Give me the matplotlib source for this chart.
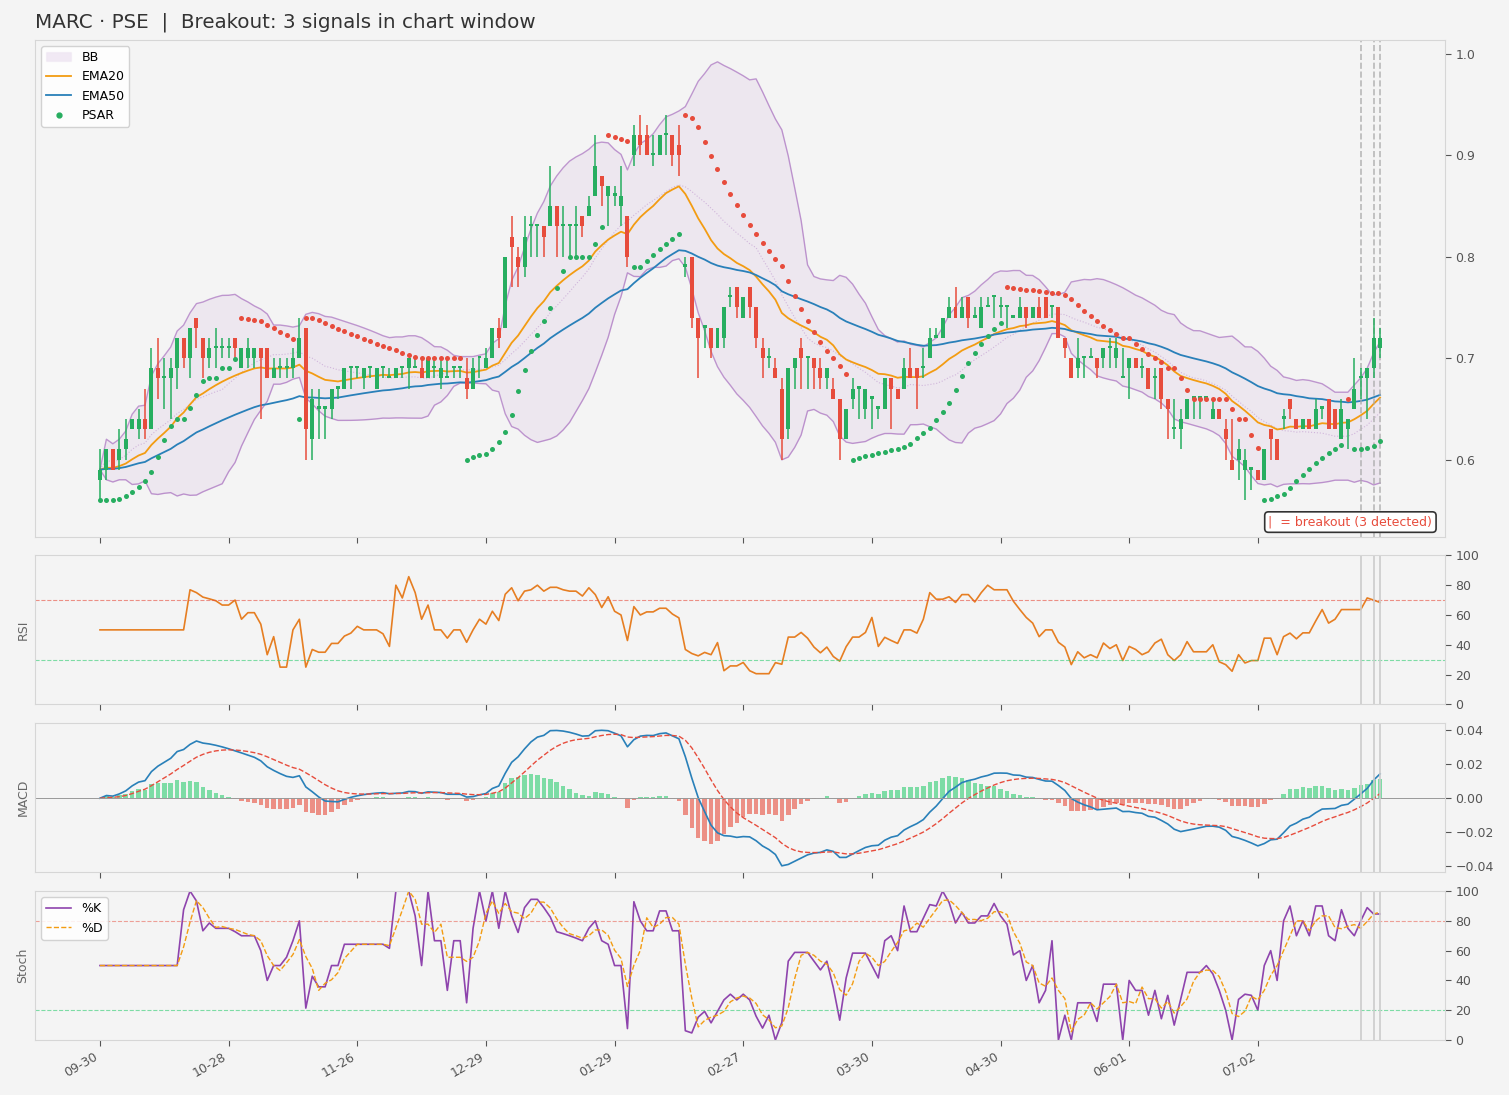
import numpy as np
import pandas as pd
import matplotlib
matplotlib.use("Agg")
import matplotlib.pyplot as plt
from matplotlib.patches import Patch
from matplotlib.lines import Line2D

# daily OHLC (PSE tick = 0.01)
opens = [0.58, 0.59, 0.61, 0.60, 0.61, 0.63, 0.63, 0.64, 0.63, 0.69,
         0.68, 0.68, 0.69, 0.72, 0.70, 0.74, 0.72, 0.70, 0.71, 0.71,
         0.71, 0.72, 0.69, 0.70, 0.70, 0.71, 0.71, 0.68, 0.69, 0.69,
         0.69, 0.70, 0.73, 0.62, 0.65, 0.65, 0.65, 0.67, 0.67, 0.69,
         0.69, 0.68, 0.69, 0.67, 0.69, 0.68, 0.68, 0.69, 0.69, 0.69,
         0.69, 0.68, 0.69, 0.68, 0.68, 0.69, 0.69, 0.68, 0.67, 0.70,
         0.69, 0.70, 0.73, 0.73, 0.82, 0.80, 0.79, 0.83, 0.83, 0.83,
         0.83, 0.85, 0.83, 0.83, 0.83, 0.84, 0.84, 0.86, 0.88, 0.86,
         0.86, 0.85, 0.84, 0.90, 0.92, 0.92, 0.90, 0.90, 0.92, 0.92,
         0.91, 0.79, 0.80, 0.74, 0.73, 0.73, 0.71, 0.72, 0.76, 0.77,
         0.74, 0.77, 0.75, 0.71, 0.70, 0.69, 0.67, 0.63, 0.69, 0.71,
         0.70, 0.70, 0.69, 0.68, 0.67, 0.66, 0.62, 0.66, 0.67, 0.65,
         0.66, 0.65, 0.65, 0.68, 0.67, 0.67, 0.69, 0.69, 0.69, 0.70,
         0.72, 0.72, 0.74, 0.75, 0.74, 0.76, 0.74, 0.73, 0.75, 0.76,
         0.75, 0.75, 0.74, 0.74, 0.75, 0.74, 0.75, 0.76, 0.75, 0.75,
         0.72, 0.70, 0.69, 0.70, 0.70, 0.70, 0.70, 0.71, 0.70, 0.68,
         0.69, 0.70, 0.69, 0.69, 0.68, 0.69, 0.66, 0.63, 0.63, 0.64,
         0.66, 0.66, 0.66, 0.64, 0.65, 0.63, 0.60, 0.60, 0.59, 0.59,
         0.59, 0.58, 0.63, 0.62, 0.64, 0.66, 0.64, 0.63, 0.64, 0.63,
         0.65, 0.66, 0.65, 0.62, 0.63, 0.65, 0.68, 0.68, 0.69, 0.71]
highs = [0.61, 0.61, 0.61, 0.63, 0.64, 0.64, 0.65, 0.67, 0.71, 0.72,
         0.70, 0.70, 0.72, 0.72, 0.73, 0.74, 0.72, 0.72, 0.73, 0.72,
         0.72, 0.72, 0.71, 0.72, 0.71, 0.71, 0.71, 0.70, 0.70, 0.70,
         0.71, 0.74, 0.73, 0.67, 0.67, 0.65, 0.67, 0.67, 0.69, 0.69,
         0.69, 0.69, 0.69, 0.69, 0.69, 0.69, 0.69, 0.69, 0.70, 0.70,
         0.70, 0.70, 0.70, 0.70, 0.70, 0.69, 0.69, 0.70, 0.70, 0.70,
         0.71, 0.73, 0.74, 0.80, 0.84, 0.81, 0.84, 0.84, 0.83, 0.83,
         0.89, 0.85, 0.85, 0.83, 0.85, 0.84, 0.86, 0.92, 0.88, 0.87,
         0.87, 0.89, 0.84, 0.93, 0.94, 0.93, 0.92, 0.92, 0.94, 0.92,
         0.93, 0.80, 0.80, 0.74, 0.73, 0.73, 0.73, 0.75, 0.77, 0.77,
         0.76, 0.77, 0.75, 0.72, 0.71, 0.70, 0.68, 0.69, 0.70, 0.72,
         0.70, 0.70, 0.70, 0.69, 0.68, 0.66, 0.65, 0.68, 0.67, 0.67,
         0.66, 0.65, 0.68, 0.68, 0.67, 0.70, 0.71, 0.69, 0.71, 0.73,
         0.73, 0.74, 0.76, 0.77, 0.76, 0.76, 0.75, 0.76, 0.76, 0.76,
         0.76, 0.75, 0.74, 0.76, 0.75, 0.75, 0.76, 0.76, 0.75, 0.75,
         0.72, 0.70, 0.72, 0.70, 0.71, 0.70, 0.71, 0.72, 0.72, 0.71,
         0.70, 0.70, 0.70, 0.69, 0.69, 0.69, 0.66, 0.66, 0.65, 0.66,
         0.66, 0.66, 0.66, 0.66, 0.65, 0.64, 0.64, 0.62, 0.61, 0.59,
         0.59, 0.61, 0.63, 0.62, 0.65, 0.66, 0.64, 0.64, 0.64, 0.66,
         0.65, 0.66, 0.65, 0.66, 0.64, 0.70, 0.69, 0.69, 0.74, 0.73]
lows = [0.56, 0.58, 0.59, 0.59, 0.60, 0.63, 0.62, 0.62, 0.63, 0.66,
        0.65, 0.64, 0.67, 0.69, 0.68, 0.71, 0.68, 0.69, 0.69, 0.70,
        0.70, 0.70, 0.69, 0.69, 0.69, 0.64, 0.68, 0.68, 0.68, 0.68,
        0.68, 0.70, 0.60, 0.60, 0.62, 0.62, 0.64, 0.66, 0.67, 0.67,
        0.68, 0.67, 0.68, 0.67, 0.68, 0.68, 0.68, 0.68, 0.67, 0.69,
        0.68, 0.68, 0.68, 0.67, 0.68, 0.68, 0.68, 0.66, 0.67, 0.68,
        0.69, 0.70, 0.71, 0.73, 0.77, 0.77, 0.78, 0.80, 0.80, 0.80,
        0.83, 0.80, 0.80, 0.80, 0.80, 0.82, 0.84, 0.86, 0.85, 0.83,
        0.85, 0.83, 0.79, 0.89, 0.90, 0.90, 0.89, 0.90, 0.90, 0.89,
        0.88, 0.78, 0.73, 0.68, 0.71, 0.70, 0.71, 0.71, 0.75, 0.74,
        0.74, 0.74, 0.71, 0.68, 0.69, 0.68, 0.60, 0.62, 0.67, 0.67,
        0.67, 0.67, 0.67, 0.67, 0.66, 0.60, 0.62, 0.65, 0.64, 0.64,
        0.63, 0.64, 0.65, 0.63, 0.66, 0.67, 0.68, 0.65, 0.68, 0.70,
        0.72, 0.72, 0.74, 0.74, 0.74, 0.73, 0.74, 0.73, 0.75, 0.74,
        0.74, 0.73, 0.74, 0.74, 0.73, 0.74, 0.74, 0.74, 0.74, 0.72,
        0.70, 0.68, 0.68, 0.68, 0.70, 0.68, 0.69, 0.69, 0.69, 0.68,
        0.66, 0.69, 0.68, 0.67, 0.66, 0.65, 0.62, 0.62, 0.61, 0.64,
        0.64, 0.64, 0.66, 0.64, 0.64, 0.60, 0.59, 0.58, 0.56, 0.57,
        0.58, 0.58, 0.60, 0.60, 0.63, 0.64, 0.63, 0.63, 0.63, 0.63,
        0.64, 0.63, 0.63, 0.62, 0.61, 0.65, 0.66, 0.64, 0.68, 0.70]
closes = [0.59, 0.61, 0.59, 0.61, 0.62, 0.64, 0.64, 0.63, 0.69, 0.68,
          0.68, 0.69, 0.72, 0.70, 0.73, 0.73, 0.70, 0.71, 0.71, 0.71,
          0.71, 0.71, 0.71, 0.71, 0.71, 0.70, 0.68, 0.69, 0.69, 0.69,
          0.70, 0.72, 0.63, 0.66, 0.65, 0.65, 0.67, 0.67, 0.69, 0.69,
          0.69, 0.69, 0.69, 0.69, 0.69, 0.68, 0.69, 0.69, 0.70, 0.69,
          0.68, 0.70, 0.69, 0.69, 0.68, 0.69, 0.69, 0.67, 0.69, 0.70,
          0.70, 0.73, 0.72, 0.80, 0.81, 0.79, 0.82, 0.83, 0.83, 0.82,
          0.85, 0.83, 0.83, 0.83, 0.83, 0.83, 0.85, 0.89, 0.87, 0.87,
          0.86, 0.86, 0.80, 0.92, 0.91, 0.90, 0.90, 0.92, 0.92, 0.90,
          0.90, 0.79, 0.74, 0.72, 0.73, 0.71, 0.73, 0.75, 0.76, 0.75,
          0.76, 0.75, 0.72, 0.70, 0.70, 0.68, 0.62, 0.69, 0.70, 0.70,
          0.70, 0.69, 0.68, 0.69, 0.66, 0.62, 0.65, 0.67, 0.67, 0.67,
          0.66, 0.65, 0.68, 0.67, 0.66, 0.69, 0.68, 0.68, 0.69, 0.72,
          0.72, 0.74, 0.75, 0.74, 0.75, 0.74, 0.74, 0.75, 0.75, 0.76,
          0.75, 0.75, 0.74, 0.75, 0.74, 0.75, 0.74, 0.74, 0.75, 0.72,
          0.71, 0.68, 0.70, 0.70, 0.70, 0.69, 0.71, 0.71, 0.71, 0.68,
          0.70, 0.69, 0.69, 0.67, 0.68, 0.66, 0.65, 0.63, 0.64, 0.66,
          0.66, 0.66, 0.66, 0.65, 0.64, 0.62, 0.59, 0.61, 0.60, 0.59,
          0.58, 0.61, 0.62, 0.60, 0.64, 0.65, 0.63, 0.64, 0.63, 0.65,
          0.65, 0.63, 0.63, 0.65, 0.64, 0.67, 0.68, 0.69, 0.72, 0.72]

tick_bars = [0, 20, 40, 60, 80, 100, 120, 140, 160, 180]
tick_labels = ["09-30", "10-28", "11-26", "12-29", "01-29",
               "02-27", "03-30", "04-30", "06-01", "07-02"]
breakout_bars = [196, 198, 199]

GREEN = "#27ae60"
RED = "#e74c3c"
BG = "#f4f4f4"


def parabolic_sar(high, low, step=0.02, max_af=0.2):
    n = len(high)
    sar = np.zeros(n)
    bull_flags = np.zeros(n, dtype=bool)
    bull = True
    af = step
    ep = high[0]
    sar[0] = low[0]
    bull_flags[0] = True
    for i in range(1, n):
        prev = sar[i - 1]
        s = prev + af * (ep - prev)
        if bull:
            s = min(s, low[i - 1], low[max(i - 2, 0)])
            if low[i] < s:
                bull = False
                s = ep
                ep = low[i]
                af = step
            elif high[i] > ep:
                ep = high[i]
                af = min(af + step, max_af)
        else:
            s = max(s, high[i - 1], high[max(i - 2, 0)])
            if high[i] > s:
                bull = True
                s = ep
                ep = high[i]
                af = step
            elif low[i] < ep:
                ep = low[i]
                af = min(af + step, max_af)
        sar[i] = s
        bull_flags[i] = bull
    return sar, bull_flags


df = pd.DataFrame({"open": opens, "high": highs, "low": lows, "close": closes})
x = np.arange(len(df))
close = df["close"]

ema20 = close.ewm(span=20, adjust=False).mean()
ema50 = close.ewm(span=50, adjust=False).mean()
bb_mid = close.rolling(20, min_periods=1).mean()
bb_std = close.rolling(20, min_periods=1).std(ddof=0)
bb_up = bb_mid + 2 * bb_std
bb_lo = bb_mid - 2 * bb_std

delta = close.diff()
gain = delta.clip(lower=0).rolling(14).mean()
loss = (-delta.clip(upper=0)).rolling(14).mean()
rsi = (100 - 100 / (1 + gain / loss)).fillna(50)

macd = close.ewm(span=12, adjust=False).mean() - close.ewm(span=26, adjust=False).mean()
signal = macd.ewm(span=9, adjust=False).mean()
hist = macd - signal

ll = df["low"].rolling(14).min()
hh = df["high"].rolling(14).max()
stoch_k = (100 * (close - ll) / (hh - ll)).fillna(50)
stoch_d = stoch_k.rolling(3).mean().fillna(50)

sar, sar_bull = parabolic_sar(df["high"].values, df["low"].values)

plt.rcParams["font.family"] = "DejaVu Sans"
fig = plt.figure(figsize=(15.09, 10.95), dpi=100, facecolor=BG)
gs = fig.add_gridspec(4, 1, height_ratios=[10, 3, 3, 3], hspace=0.08,
                      left=0.0232, right=0.9576, top=0.9635, bottom=0.0502)
ax = fig.add_subplot(gs[0])
ax_rsi = fig.add_subplot(gs[1], sharex=ax)
ax_macd = fig.add_subplot(gs[2], sharex=ax)
ax_st = fig.add_subplot(gs[3], sharex=ax)

for a in (ax, ax_rsi, ax_macd, ax_st):
    a.set_facecolor(BG)
    for sp in a.spines.values():
        sp.set_color("#d6d6d6")
    a.yaxis.tick_right()
    a.tick_params(labelsize=9, colors="#555555", length=4)
    a.tick_params(axis="x", labelbottom=False)

# --- price panel ---
ax.fill_between(x, bb_lo, bb_up, color="#9b59b6", alpha=0.08, linewidth=0)
ax.plot(x, bb_up, color="#9b59b6", alpha=0.6, linewidth=1)
ax.plot(x, bb_lo, color="#9b59b6", alpha=0.6, linewidth=1)
ax.plot(x, bb_mid, color="#9b59b6", alpha=0.35, linewidth=0.8, linestyle=":")
ax.plot(x, ema20, color="#f39c12", linewidth=1.3)
ax.plot(x, ema50, color="#2980b9", linewidth=1.3)

up = df["close"] >= df["open"]
colors = [GREEN if u else RED for u in up]
body_lo = np.minimum(df["open"], df["close"])
body_h = np.maximum((df["close"] - df["open"]).abs(), 0.0025)
ax.vlines(x, df["low"], df["high"], colors=colors, linewidth=1.1, zorder=3)
ax.bar(x, body_h, bottom=body_lo, width=0.62, color=colors, zorder=4, linewidth=0)

ax.scatter(x[sar_bull], sar[sar_bull], s=13, color=GREEN, zorder=5, linewidths=0)
ax.scatter(x[~sar_bull], sar[~sar_bull], s=13, color=RED, zorder=5, linewidths=0)

for b in breakout_bars:
    ax.axvline(b, color="#aaaaaa", linestyle="--", linewidth=1.2, alpha=0.8)

ax.set_xlim(-10.1, 209.1)
ax.set_ylim(0.524, 1.014)
ax.set_yticks([0.6, 0.7, 0.8, 0.9, 1.0])
ax.set_title("MARC \u00b7 PSE  |  Breakout: 3 signals in chart window",
             loc="left", fontsize=14.3, color="#333333", pad=9)

handles = [Patch(facecolor="#9b59b6", alpha=0.12, edgecolor="#d8c8e0", label="BB"),
           Line2D([], [], color="#f39c12", linewidth=1.3, label="EMA20"),
           Line2D([], [], color="#2980b9", linewidth=1.3, label="EMA50"),
           Line2D([], [], color=GREEN, marker="o", markersize=3.5, linestyle="None", label="PSAR")]
leg = ax.legend(handles=handles, loc="upper left", fontsize=9, framealpha=0.85)
leg.get_frame().set_edgecolor("#cccccc")

ax.text(0.991, 0.016, "|  = breakout (3 detected)", transform=ax.transAxes,
        ha="right", va="bottom", fontsize=9, color=RED,
        bbox=dict(boxstyle="round,pad=0.3", facecolor="white", edgecolor="#333333", linewidth=1.2))

# --- RSI ---
ax_rsi.plot(x, rsi, color="#e67e22", linewidth=1.2)
ax_rsi.axhline(70, color=RED, linestyle="--", linewidth=0.8, alpha=0.6)
ax_rsi.axhline(30, color="#2ecc71", linestyle="--", linewidth=0.8, alpha=0.6)
ax_rsi.set_ylim(0, 100)
ax_rsi.set_yticks([0, 20, 40, 60, 80, 100])
ax_rsi.set_ylabel("RSI", fontsize=9, color="#666666")

# --- MACD ---
hist_colors = ["#2ecc71" if h >= 0 else RED for h in hist]
ax_macd.bar(x, hist, width=0.7, color=hist_colors, alpha=0.6, linewidth=0)
ax_macd.plot(x, macd, color="#2980b9", linewidth=1.2)
ax_macd.plot(x, signal, color=RED, linewidth=1, linestyle="--")
ax_macd.axhline(0, color="#999999", linewidth=0.7)
ax_macd.set_ylim(-0.0435, 0.0441)
ax_macd.set_yticks([-0.04, -0.02, 0.0, 0.02, 0.04])
ax_macd.set_ylabel("MACD", fontsize=9, color="#666666")

# --- Stochastic ---
ax_st.plot(x, stoch_k, color="#8e44ad", linewidth=1.2, label="%K")
ax_st.plot(x, stoch_d, color="#f39c12", linewidth=1, linestyle="--", label="%D")
ax_st.axhline(80, color=RED, linestyle="--", linewidth=0.8, alpha=0.5)
ax_st.axhline(20, color="#2ecc71", linestyle="--", linewidth=0.8, alpha=0.6)
ax_st.set_ylim(0, 100)
ax_st.set_yticks([0, 20, 40, 60, 80, 100])
ax_st.set_ylabel("Stoch", fontsize=9, color="#666666")
leg2 = ax_st.legend(loc="upper left", fontsize=9, framealpha=0.85)
leg2.get_frame().set_edgecolor("#cccccc")

for a in (ax_rsi, ax_macd, ax_st):
    for b in breakout_bars:
        a.axvline(b, color="#cccccc", linewidth=1.2)

ax_st.set_xticks(tick_bars)
ax_st.set_xticklabels(tick_labels, rotation=30, ha="right")
ax_st.tick_params(axis="x", labelbottom=True)

fig.savefig("out.png", dpi=100, facecolor=BG)
